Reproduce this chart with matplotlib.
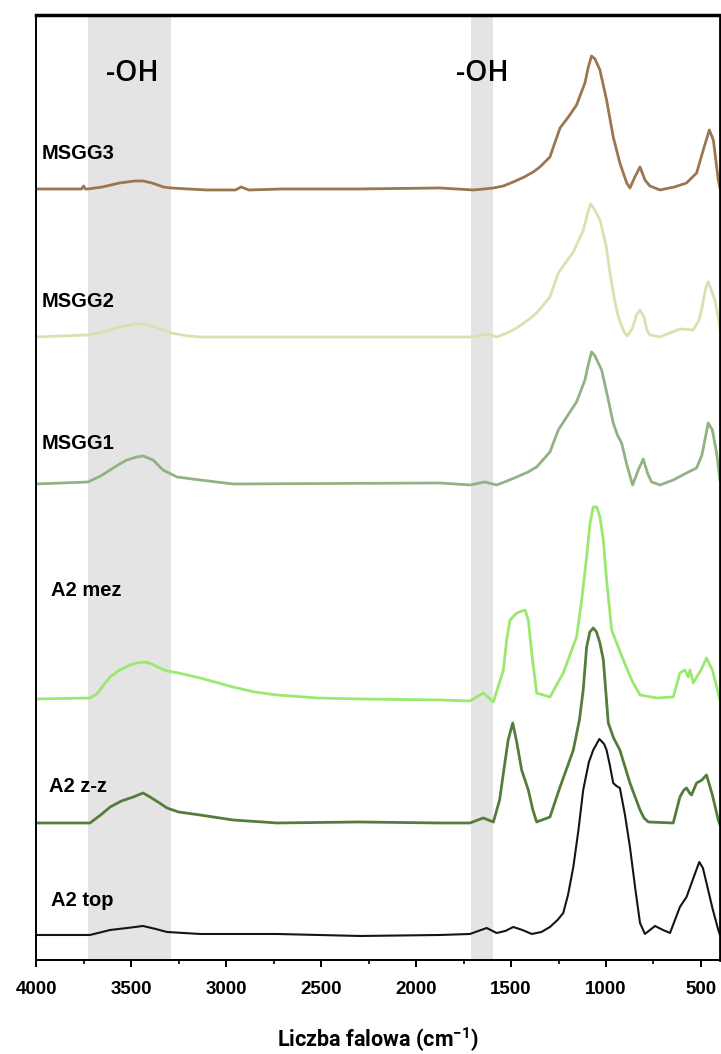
import matplotlib
matplotlib.use("Agg")
import matplotlib.pyplot as plt
from matplotlib.ticker import MultipleLocator

plt.rcParams["mathtext.fontset"] = "custom"
plt.rcParams["mathtext.rm"] = "Roboto"
plt.rcParams["mathtext.bf"] = "Roboto:bold"

msgg3_wn = [4000, 3760, 3750, 3740, 3726, 3650, 3560, 3480, 3437, 3390, 3330, 3290, 3200, 3100,
            2950, 2920, 2880, 2700, 2300, 1874, 1698, 1640, 1593, 1540, 1488, 1430, 1383, 1348,
            1295, 1277, 1242, 1198, 1155, 1111, 1093, 1076, 1058, 1032, 997, 962, 927, 891,
            874, 848, 821, 795, 769, 716, 640, 576, 523, 488, 456, 435, 409, 400]
msgg3_y = [771, 771, 774, 771, 771, 773, 777, 779, 779, 777, 773, 772, 771, 770,
           770, 773, 770, 771, 771, 772, 770, 771, 772, 774, 778, 783, 788, 793,
           803, 813, 832, 843, 855, 877, 893, 904, 901, 890, 860, 823, 797, 777,
           772, 783, 793, 780, 774, 770, 773, 777, 787, 810, 830, 820, 780, 772]

msgg2_wn = [4000, 3726, 3650, 3560, 3480, 3437, 3390, 3330, 3290, 3200, 3137, 2900, 1874, 1698,
            1619, 1576, 1520, 1470, 1410, 1365, 1295, 1251, 1210, 1172, 1119, 1095, 1081, 1065,
            1032, 1000, 979, 955, 935, 905, 888, 860, 840, 821, 800, 785, 769, 716, 611, 541,
            510, 497, 475, 462, 450, 427, 404, 400]
msgg2_y = [623, 625, 628, 633, 636, 636, 634, 630, 627, 624, 623, 623, 623, 623,
           626, 623, 627, 632, 640, 647, 663, 687, 698, 708, 730, 748, 756, 752,
           740, 715, 687, 660, 643, 628, 624, 632, 645, 650, 643, 630, 625, 623, 631, 630,
           640, 650, 672, 678, 672, 660, 637, 630]

msgg1_wn = [4000, 3726, 3660, 3610, 3560, 3521, 3470, 3437, 3384, 3332, 3258, 3137, 2963, 1874,
            1716, 1637, 1576, 1520, 1470, 1410, 1365, 1295, 1251, 1200, 1155, 1111, 1090, 1076,
            1058, 1023, 990, 962, 940, 918, 890, 860, 830, 804, 780, 760, 716, 646, 576, 523,
            495, 462, 440, 418, 400]
msgg1_y = [476, 478, 484, 490, 496, 500, 503, 504, 500, 490, 483, 480, 476, 477,
           475, 478, 475, 479, 483, 488, 493, 508, 530, 545, 558, 580, 598, 608,
           604, 590, 562, 537, 525, 517, 495, 475, 490, 501, 486, 478, 475, 480, 487, 492,
           505, 537, 530, 507, 480]

mez_wn = [4000, 3716, 3680, 3640, 3610, 3560, 3505, 3470, 3426, 3390, 3350, 3311, 3250, 3137,
          2963, 2850, 2732, 2521, 2295, 1874, 1716, 1646, 1593, 1540, 1523, 1505, 1470, 1426,
          1409, 1391, 1365, 1295, 1225, 1155, 1128, 1102, 1084, 1067, 1049, 1032, 1014, 997,
          970, 944, 909, 865, 821, 733, 646, 611, 585, 567, 558, 541, 500, 471, 440, 409, 400]
mez_y = [261, 262, 266, 276, 283, 290, 295, 297, 298, 296, 292, 289, 287, 282,
         273, 268, 265, 262, 261, 260, 259, 267, 258, 290, 320, 340, 347, 350,
         340, 307, 267, 263, 287, 323, 360, 403, 437, 453, 453, 443, 420, 380,
         330, 317, 300, 280, 265, 262, 263, 287, 290, 283, 290, 277, 290, 302, 290, 267, 260]

zz_wn = [4000, 3716, 3660, 3610, 3550, 3488, 3437, 3400, 3350, 3311, 3250, 3137, 2963, 2732,
         2300, 1874, 1716, 1646, 1593, 1560, 1540, 1515, 1491, 1470, 1444, 1409, 1385, 1365,
         1295, 1242, 1200, 1172, 1140, 1120, 1102, 1085, 1067, 1050, 1032, 1014, 988, 960,
         927, 874, 821, 800, 777, 646, 611, 590, 576, 560, 550, 523, 495, 471, 440, 409, 400]
zz_y = [137, 137, 145, 153, 159, 163, 167, 163, 157, 152, 148, 145, 140, 137,
        138, 137, 137, 142, 138, 160, 187, 220, 237, 218, 190, 170, 150, 138,
        143, 173, 195, 210, 240, 270, 313, 328, 332, 328, 317, 300, 237, 222,
        210, 177, 150, 142, 138, 137, 163, 170, 172, 167, 165, 177, 180, 185, 165, 140, 135]

top_wn = [4000, 3716, 3610, 3520, 3437, 3370, 3311, 3137, 2732, 2295, 1874, 1716, 1628, 1576,
          1530, 1488, 1440, 1391, 1340, 1295, 1255, 1225, 1200, 1172, 1145, 1120, 1090, 1067,
          1035, 1010, 997, 980, 962, 945, 927, 900, 874, 845, 821, 795, 742, 700, 663, 611,
          576, 540, 509, 490, 471, 440, 409, 400]
top_y = [25, 25, 30, 32, 34, 31, 28, 26, 26, 24, 25, 26, 32, 27,
         29, 33, 30, 26, 28, 33, 40, 47, 65, 93, 130, 170, 198, 210,
         221, 216, 210, 195, 177, 174, 172, 145, 113, 70, 37, 26, 34, 30, 27, 53,
         63, 82, 98, 92, 77, 52, 30, 25]

series = [
    ("MSGG3", msgg3_wn, msgg3_y, "#9a7750"),
    ("MSGG2", msgg2_wn, msgg2_y, "#dedfb0"),
    ("MSGG1", msgg1_wn, msgg1_y, "#93b283"),
    ("A2 mez", mez_wn, mez_y, "#9be870"),
    ("A2 z-z", zz_wn, zz_y, "#547d3c"),
    ("A2 top", top_wn, top_y, "#151515"),
]
label_pos = {  # (wavenumber, y) of the sample names
    "MSGG3": (3970, 806), "MSGG2": (3970, 658), "MSGG1": (3970, 516),
    "A2 mez": (3920, 369), "A2 z-z": (3930, 173), "A2 top": (3920, 59),
}
oh_bands = [(3725, 3290), (1710, 1595)]
oh_text = [(3495, 886), (1650, 886)]

fig = plt.figure(figsize=(7.21, 10.54), dpi=100)
ax = fig.add_axes([0.05, 0.0892, 0.9486, 0.8966])
ax.set_xlim(4000, 400)
ax.set_ylim(0, 945)

for lo, hi in oh_bands:
    ax.axvspan(hi, lo, color="#e4e4e4", zorder=0, lw=0)

for name, wn, y, c in series:
    lw = 1.5 if name == "A2 top" else 2.0
    ax.plot(wn, y, color=c, lw=lw, zorder=2, solid_joinstyle="round")
    lx, ly = label_pos[name]
    ax.text(lx, ly, name, fontsize=14.5, fontweight="bold", family="Liberation Sans",
            ha="left", va="center", zorder=3)

for tx, ty in oh_text:
    ax.text(tx, ty, "-OH", fontsize=20.5, family="Open Sans", fontweight="semibold",
            ha="center", va="center", zorder=3)

ax.set_yticks([])
ax.xaxis.set_major_locator(MultipleLocator(500))
ax.xaxis.set_minor_locator(MultipleLocator(250))
ax.tick_params(axis="x", which="major", direction="out", length=5, width=1.4, pad=10,
               labelsize=13.5)
ax.tick_params(axis="x", which="minor", direction="out", length=3, width=1.2)
for lab in ax.get_xticklabels():
    lab.set_fontweight("bold")
    lab.set_family("Liberation Sans")

for side in ["left", "bottom"]:
    ax.spines[side].set_linewidth(1.4)
ax.spines["top"].set_linewidth(2.5)
ax.spines["right"].set_linewidth(2.0)

ax.set_xlabel("Liczba falowa (cm$^{\\mathbf{-1}}$)", fontsize=15.5, fontweight="bold",
              family="Roboto", labelpad=20)

fig.savefig("out.png", dpi=100)
